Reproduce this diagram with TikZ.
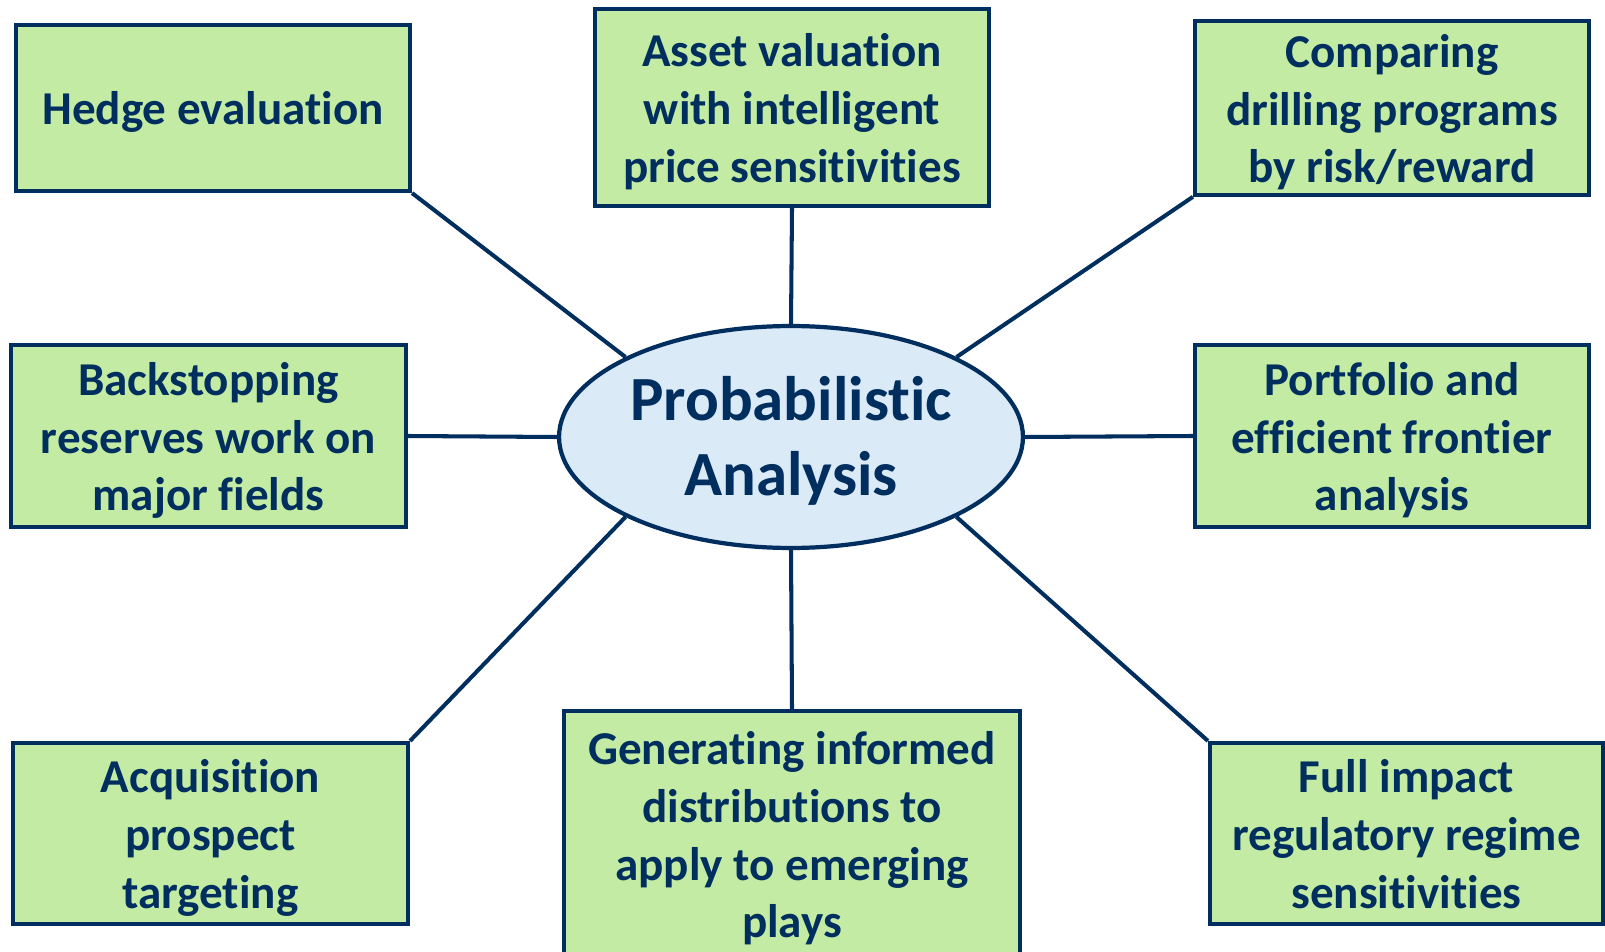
\documentclass[tikz,border=0pt]{standalone}
\usepackage{fontspec}
\setmainfont{Carlito}[Ligatures=NoCommon]
\usetikzlibrary{shapes.geometric,backgrounds}

\definecolor{navy}{HTML}{002E5E}
\definecolor{leaf}{HTML}{C3EBA3}
\definecolor{sky}{HTML}{DBEAF7}

% centred block of lines, drawn a little lower than its reported box
\newcommand{\droppedlines}[2]{\raisebox{-#1}[\height][\depth]{\begin{tabular}{@{}c@{}}#2\end{tabular}}}

\tikzset{
  topic/.style={draw=navy, fill=leaf, line width=2.4pt, inner sep=0pt,
    text=navy, font=\fontsize{26.8}{32.9}\selectfont\bfseries},
  hub/.style={ellipse, draw=navy, fill=sky, line width=2.4pt, inner sep=0pt,
    minimum width=9.28cm, minimum height=4.44cm,
    text=navy, font=\fontsize{35.8}{43}\selectfont\bfseries},
  spoke/.style={draw=navy, line width=2.3pt}
}

\begin{document}
\begin{tikzpicture}[x=0.02cm, y=-0.02cm]
\clip (0,0) rectangle (1605,952);

% central ellipse
\node[hub] (pa) at (791,437) {\droppedlines{3.4pt}{Probabilistic\\Analysis}};

% surrounding topics
\node[topic, minimum width=7.88cm, minimum height=3.32cm] (hedge) at (213,108)
  {\droppedlines{2.9pt}{Hedge evaluation}};
\node[topic, minimum width=7.88cm, minimum height=3.94cm] (asset) at (792,107.5)
  {\droppedlines{3.1pt}{Asset valuation\\with intelligent\\price sensitivities}};
\node[topic, minimum width=7.88cm, minimum height=3.32cm] (drill) at (1392,108)
  {\droppedlines{3.1pt}{Comparing\\drilling programs\\by risk/reward}};
\node[topic, minimum width=7.9cm, minimum height=3.64cm] (back) at (208.5,436)
  {\droppedlines{3.1pt}{Backstopping\\reserves work on\\major fields}};
\node[topic, minimum width=7.88cm, minimum height=3.64cm] (port) at (1392,436)
  {\droppedlines{3.1pt}{Portfolio and\\efficient frontier\\analysis}};
\node[topic, minimum width=7.9cm, minimum height=3.62cm] (acq) at (210.5,833.5)
  {\droppedlines{3.1pt}{Acquisition\\prospect\\targeting}};
\node[topic, minimum width=9.12cm, minimum height=4.98cm] (gen) at (792,835.5)
  {\droppedlines{2.3pt}{Generating informed\\distributions to\\apply to emerging\\plays}};
\node[topic, minimum width=7.86cm, minimum height=3.62cm] (reg) at (1406.5,833.5)
  {\droppedlines{3.1pt}{Full impact\\regulatory regime\\sensitivities}};

% spokes, behind the shapes
\begin{scope}[on background layer]
\fill[white] (0,0) rectangle (1605,952);
\draw[spoke] (hedge.south east) -- (pa.north west);
\draw[spoke] (asset.south) -- (pa.north);
\draw[spoke] (drill.south west) -- (pa.north east);
\draw[spoke] (back.east) -- (pa.west);
\draw[spoke] (port.west) -- (pa.east);
\draw[spoke] (acq.north east) -- (pa.south west);
\draw[spoke] (gen.north) -- (pa.south);
\draw[spoke] (reg.north west) -- (pa.south east);
\end{scope}
\end{tikzpicture}
\end{document}
